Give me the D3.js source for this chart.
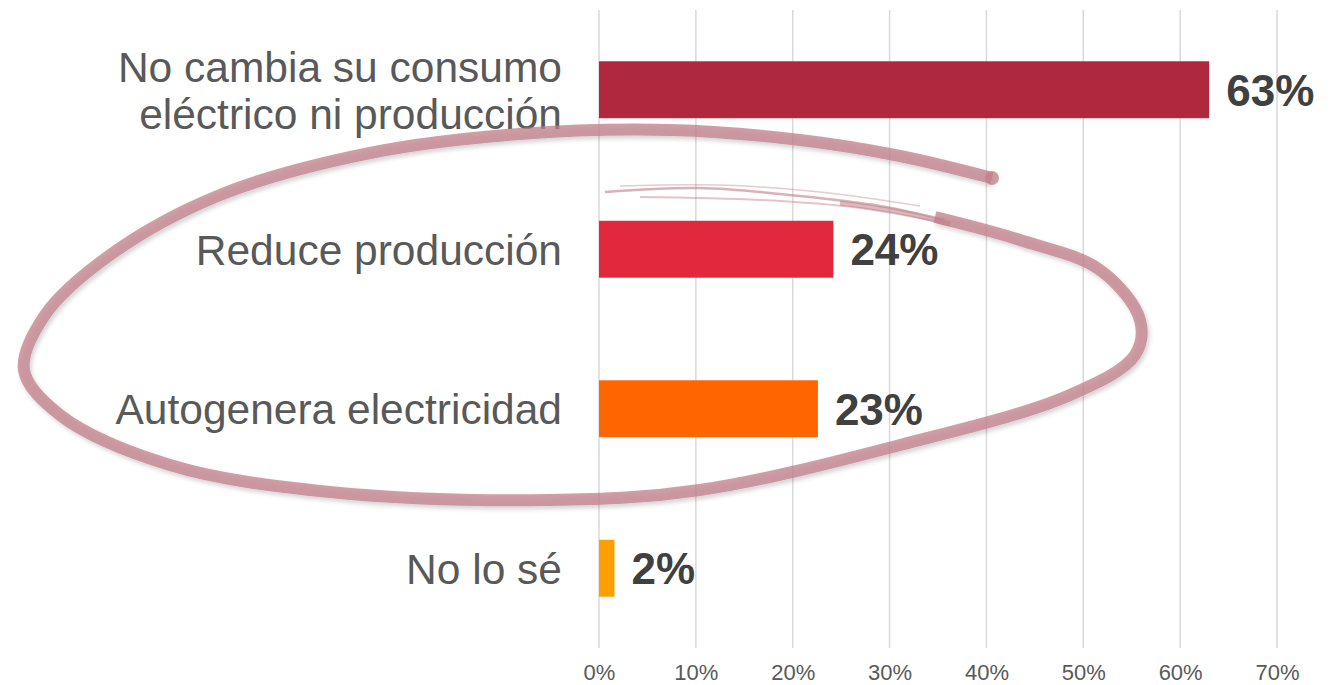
<!DOCTYPE html>
<html>
<head>
<meta charset="utf-8">
<script src="https://cdn.jsdelivr.net/npm/d3@7"></script>
<style>
  body { margin: 0; background: #fff; }
</style>
</head>
<body>
<div id="chart"></div>
<script>
// datos
const categories = [
  ["No cambia su consumo", "eléctrico ni producción"],
  ["Reduce producción"],
  ["Autogenera electricidad"],
  ["No lo sé"]
]
const values = [63.0, 24.2, 22.6, 1.6]
const valueLabels = ["63%", "24%", "23%", "2%"]
const colors = ["#b0283d", "#e2283c", "#ff6600", "#ff9e00"]
const xTicks = [0, 10, 20, 30, 40, 50, 60, 70]

const width = 1340, height = 685
const plotLeft = 599, plotRight = 1277, plotTop = 10, plotBottom = 648

const svg = d3.select('#chart').append('svg')
  .attr('width', width)
  .attr('height', height)

const x = d3.scaleLinear().domain([0, 70]).range([plotLeft, plotRight])
const y = d3.scaleBand()
  .domain(d3.range(categories.length))
  .range([plotTop, plotBottom])
  .paddingInner(0.643)
  .paddingOuter(0.3215)

// lineas de cuadricula
svg.append('g')
  .selectAll('line')
  .data(xTicks)
  .join('line')
    .attr('x1', d => x(d)).attr('x2', d => x(d))
    .attr('y1', plotTop).attr('y2', plotBottom)
    .attr('stroke', '#d9d9d9')
    .attr('stroke-width', 1.5)

// eje x
const xAxis = svg.append('g')
  .attr('transform', `translate(0,${plotBottom})`)
  .call(d3.axisBottom(x).tickValues(xTicks).tickFormat(d => d + '%').tickSize(0).tickPadding(16))
xAxis.select('.domain').remove()
xAxis.selectAll('text')
  .attr('fill', '#595959')
  .style('font-family', '"Liberation Sans Narrow", "Arial Narrow", "Liberation Sans", sans-serif')
  .style('font-size', '22px')

// barras
svg.append('g')
  .selectAll('rect')
  .data(values)
  .join('rect')
    .attr('x', x(0))
    .attr('y', (d, i) => y(i))
    .attr('width', d => x(d) - x(0))
    .attr('height', y.bandwidth())
    .attr('fill', (d, i) => colors[i])

// valores
svg.append('g')
  .selectAll('text')
  .data(values)
  .join('text')
    .attr('x', d => x(d) + 17)
    .attr('y', (d, i) => y(i) + y.bandwidth() / 2)
    .attr('dy', '0.36em')
    .attr('fill', '#404040')
    .style('font-family', '"Liberation Sans Narrow", "Arial Narrow", "Liberation Sans", sans-serif')
    .style('font-weight', 'bold')
    .style('font-size', '44px')
    .text((d, i) => valueLabels[i])

// etiquetas de categoria
const lineH = 47
svg.append('g')
  .selectAll('text')
  .data(categories)
  .join('text')
    .attr('text-anchor', 'end')
    .attr('fill', '#595959')
    .style('font-family', '"Liberation Sans", Arial, sans-serif')
    .style('font-size', '42.5px')
    .each(function(d, i) {
      const cy = y(i) + y.bandwidth() / 2
      const y0 = cy - (d.length - 1) * lineH / 2
      d3.select(this).selectAll('tspan')
        .data(d)
        .join('tspan')
          .attr('x', 562)
          .attr('y', (t, j) => y0 + j * lineH)
          .attr('dy', '0.36em')
          .text(t => t)
    })

// circulo a mano alzada
const defs = svg.append('defs')
defs.append('filter').attr('id', 'sombra')
  .attr('x', '-10%').attr('y', '-10%').attr('width', '120%').attr('height', '120%')
  .append('feDropShadow')
    .attr('dx', 2).attr('dy', 3).attr('stdDeviation', 2)
    .attr('flood-color', '#000').attr('flood-opacity', 0.22)

const trazo = [
  [935, 217], [1020, 240], [1100, 270], [1140, 320], [1135, 355], [1070, 395],
  [900, 445], [700, 490], [550, 500], [330, 492], [170, 465], [60, 415],
  [24, 370], [45, 315], [110, 255], [220, 195], [370, 153], [520, 134],
  [670, 130], [800, 140], [900, 156], [992, 178]
]
const linea = d3.line().curve(d3.curveCatmullRom.alpha(0.5))
svg.append('path')
  .attr('d', linea(trazo))
  .attr('fill', 'none')
  .attr('stroke', '#c07d89')
  .attr('stroke-opacity', 0.75)
  .attr('stroke-width', 12)
  .attr('stroke-linecap', 'butt')
  .attr('filter', 'url(#sombra)')
svg.append('circle')
  .attr('cx', trazo[trazo.length - 1][0])
  .attr('cy', trazo[trazo.length - 1][1])
  .attr('r', 7)
  .attr('fill', '#c07d89')
  .attr('fill-opacity', 0.75)

// trazos secos del inicio
const secos = [
  [[605, 192], [700, 188], [800, 196], [880, 206], [945, 220]],
  [[620, 186], [720, 185], [820, 192], [920, 206]],
  [[640, 197], [760, 200], [860, 208], [940, 222]],
  [[840, 203], [900, 212], [950, 224]]
]
svg.append('g')
  .selectAll('path')
  .data(secos)
  .join('path')
    .attr('d', d => linea(d))
    .attr('fill', 'none')
    .attr('stroke', '#c07d89')
    .attr('stroke-opacity', (d, i) => [0.6, 0.4, 0.45, 0.55][i])
    .attr('stroke-width', (d, i) => [2.5, 1.5, 2, 5][i])
</script>
</body>
</html>
